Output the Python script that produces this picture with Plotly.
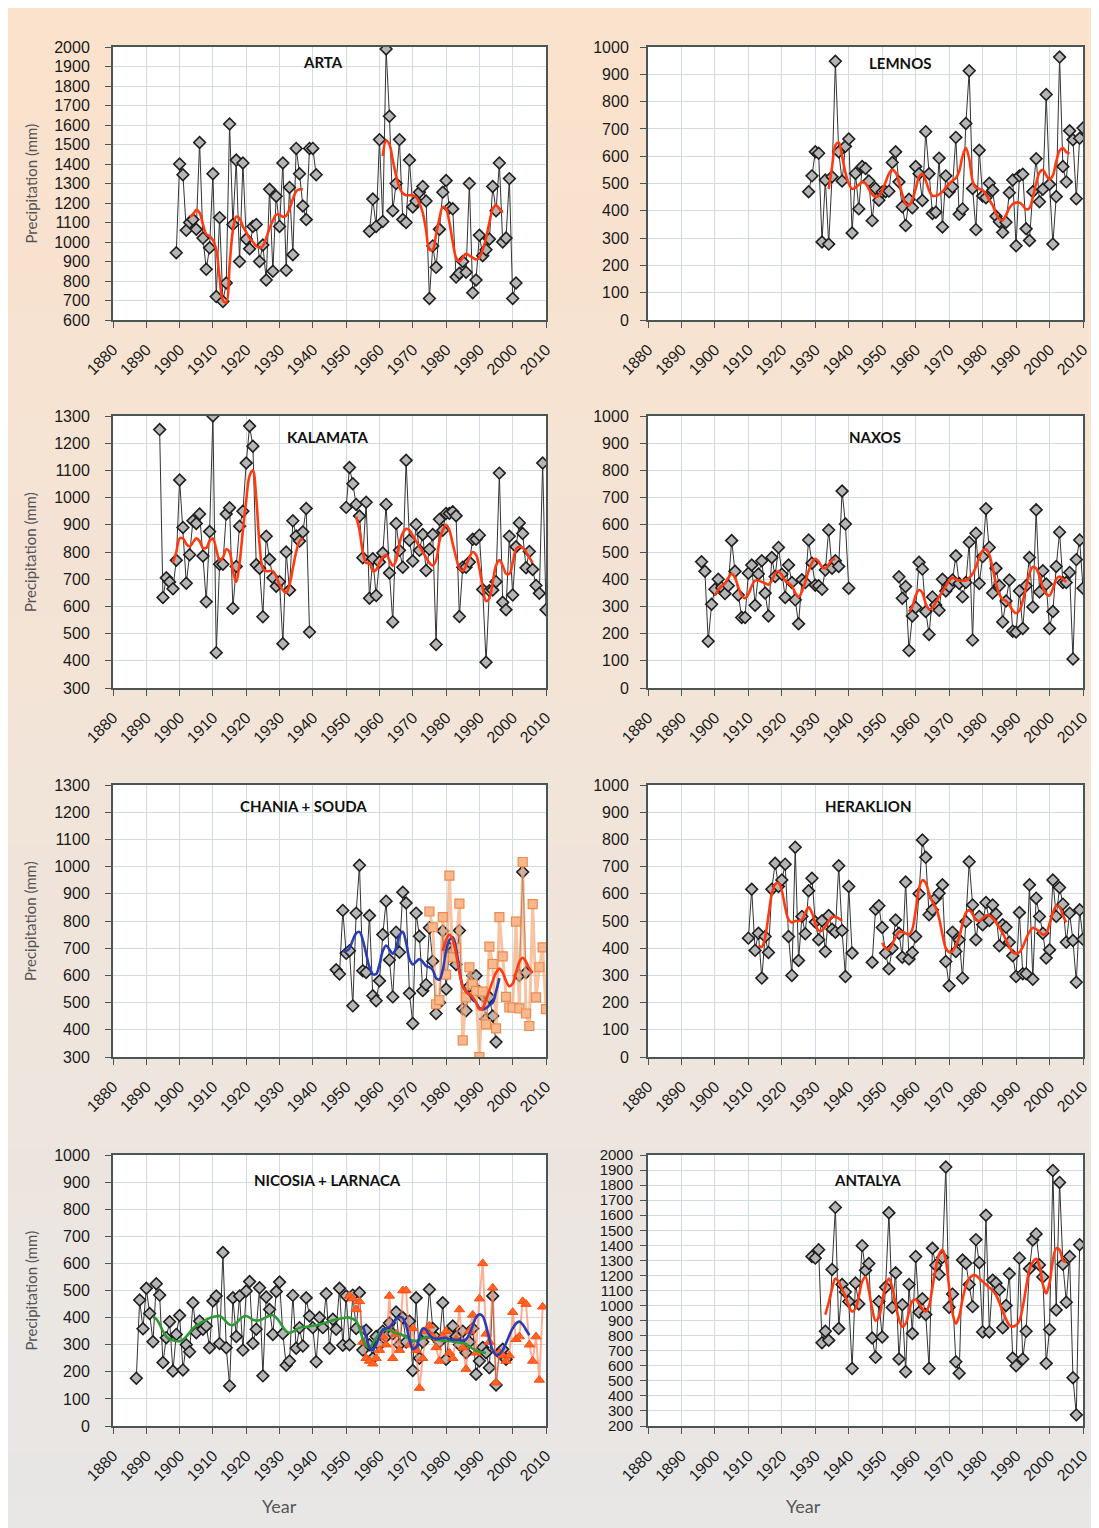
import plotly.graph_objects as go

# ---------------- DATA ----------------
X_TICKS = list(range(1880, 2011, 10))

# ARTA
ARTA_S1_START = 1899
ARTA_S1 = [945, 1400, 1345, 1060, 1100, 1115, 1065, 1510, 1020, 860, 970, 1350, 720, 1125, 695, 790,
           1605, 1090, 1420, 900, 1405, 1015, 965, 1080, 1090, 900, 985, 805, 1270, 850, 1235, 1080,
           1405, 855, 1280, 935, 1480, 1350, 1185, 1115, 1480, 1480, 1345]
ARTA_S2_START = 1957
ARTA_S2 = [1055, 1220, 1080, 1525, 1105, 1990, 1645, 1160, 1300, 1525, 1115, 1100, 1420, 1180, 1210,
           1255, 1285, 1210, 710, 980, 870, 1065, 1255, 1315, 1175, 1170, 820, 840, 900, 845, 1300,
           740, 805, 1035, 930, 960, 1015, 1285, 1160, 1405, 1000, 1020, 1325, 710, 790]
ARTA_F1_START = 1903
ARTA_F1 = [1130, 1140, 1165, 1150, 1090, 1040, 1030, 1010, 960, 820, 700, 690, 880, 1060, 1130, 1120,
           1080, 1050, 1020, 1000, 980, 970, 980, 1020, 1070, 1110, 1140, 1140, 1130, 1135, 1170, 1220,
           1260, 1270, 1270]
ARTA_F2_START = 1961
ARTA_F2 = [1440, 1520, 1500, 1420, 1340, 1280, 1250, 1240, 1240, 1240, 1230, 1200, 1150, 1060, 960,
           960, 1040, 1120, 1180, 1170, 1100, 1000, 920, 900, 920, 940, 930, 920, 910, 920, 960, 1020,
           1100, 1170, 1190, 1170, 1150]

# LEMNOS
LEMNOS_START = 1928
LEMNOS = [470, 528, 616, 611, 286, 513, 278, 525, 948, 616, 509, 636, 663, 319, 537, 407, 562, 555,
          509, 364, 482, 439, 469, 470, 472, 577, 616, 506, 415, 346, 442, 411, 562, 536, 438, 690,
          536, 390, 395, 593, 341, 528, 470, 487, 669, 387, 407, 720, 913, 482, 331, 622, 454, 448,
          501, 475, 380, 360, 321, 358, 466, 513, 272, 528, 534, 334, 291, 470, 591, 433, 479, 826,
          497, 278, 452, 963, 562, 506, 693, 660, 444, 666, 703]
LEMNOS_F_START = 1934
LEMNOS_F = [480, 560, 640, 650, 600, 540, 500, 480, 485, 495, 505, 500, 480, 460, 450, 455, 475, 505,
            535, 550, 540, 505, 460, 425, 420, 440, 480, 525, 535, 510, 475, 455, 455, 460, 470, 485,
            500, 510, 520, 545, 600, 630, 590, 510, 485, 480, 475, 460, 440, 420, 390, 370, 365, 385,
            410, 425, 430, 430, 420, 405, 410, 450, 500, 540, 550, 530, 515, 530, 580, 620, 630, 615,
            610]

# KALAMATA
KAL_S1_START = 1894
KAL_S1 = [1250, 633, 705, 690, 665, 770, 1065, 890, 685, 790, 915, 905, 940, 785, 617, 875, 1300, 430,
          755, 755, 940, 963, 593, 747, 895, 950, 1127, 1263, 1189, 753, 740, 562, 858, 773, 705, 674,
          691, 463, 800, 660, 915, 859, 840, 874, 960, 506]
KAL_S2_START = 1950
KAL_S2 = [964, 1111, 1051, 975, 932, 779, 983, 630, 775, 640, 763, 796, 975, 723, 543, 905, 806, 744,
          1137, 843, 767, 901, 806, 864, 732, 810, 864, 460, 920, 880, 942, 942, 948, 933, 563, 744,
          744, 763, 847, 847, 862, 662, 395, 658, 660, 691, 1090, 615, 588, 858, 642, 819, 907, 868,
          742, 802, 736, 677, 648, 1127, 588]
KAL_F1_START = 1898
KAL_F1 = [760, 800, 850, 850, 830, 820, 835, 850, 840, 815, 815, 840, 850, 810, 770, 780, 810, 800, 730,
          690, 760, 880, 990, 1080, 1100, 1000, 830, 740, 730, 730, 730, 710, 680, 660, 650, 680, 740,
          800, 840, 850]
KAL_F2_START = 1953
KAL_F2 = [930, 880, 800, 760, 760, 730, 735, 760, 780, 790, 770, 750, 770, 830, 870, 885, 880, 860, 840,
          820, 800, 780, 760, 750, 770, 840, 880, 900, 880, 830, 780, 740, 730, 750, 780, 800, 790, 740,
          670, 620, 630, 690, 750, 770, 750, 720, 720, 760, 810, 820, 815, 800, 780, 760]

# NAXOS
NAX_S1_START = 1896
NAX_S1 = [464, 429, 172, 308, 363, 400, 369, 347, 376, 542, 429, 342, 259, 259, 422, 452, 304, 419, 468,
          349, 265, 480, 410, 517, 418, 333, 452, 388, 324, 236, 398, 388, 544, 459, 378, 376, 363, 434,
          581, 440, 468, 447, 724, 603, 367]
NAX_S2_START = 1955
NAX_S2 = [409, 330, 373, 138, 265, 296, 462, 437, 281, 197, 335, 305, 286, 400, 357, 373, 397, 486, 384,
          335, 388, 536, 176, 569, 384, 483, 659, 517, 349, 440, 376, 243, 320, 397, 209, 206, 357, 219,
          376, 480, 298, 655, 353, 431, 382, 219, 281, 447, 573, 388, 388, 425, 107, 472, 544, 367]
NAX_F1_START = 1900
NAX_F1 = [340, 360, 375, 385, 405, 420, 405, 370, 340, 330, 345, 375, 395, 395, 390, 385, 380, 395, 420,
          430, 415, 395, 385, 375, 350, 335, 355, 390, 430, 460, 475, 465, 445, 440, 455, 470, 475]
NAX_F2_START = 1958
NAX_F2 = [280, 300, 340, 360, 350, 310, 290, 295, 315, 335, 355, 375, 395, 405, 400, 395, 395, 395, 405,
          420, 445, 480, 505, 510, 490, 440, 385, 345, 325, 320, 305, 285, 275, 285, 320, 370, 420, 445,
          440, 410, 370, 345, 340, 365, 400, 410, 400, 390]

# CHANIA + SOUDA
CHANIA_START = 1947
CHANIA = [621, 605, 839, 681, 691, 488, 829, 1005, 617, 611, 820, 525, 507, 580, 750, 873, 657, 521, 759,
          685, 906, 866, 534, 423, 829, 744, 544, 566, 775, 652, 460, 500, 763, 550, 700, 690, 640, 765,
          477, 470, 560, 599, 599, 540, 525, 440, 520, 451, 355]
CHANIA_S2_START = 2002
CHANIA_S2 = [600, 980, 610]
CHANIA_F_START = 1949
CHANIA_F = [690, 690, 700, 730, 755, 760, 730, 680, 630, 605, 605, 640, 690, 710, 695, 680, 700, 745, 760,
            720, 660, 640, 650, 660, 650, 635, 630, 620, 590, 585, 620, 690, 730, 740, 700, 620, 560, 540,
            530, 510, 500, 480, 475, 480, 490, 500, 540, 590]
SOUDA_START = 1975
SOUDA = [835, 777, 494, 509, 814, 603, 967, 666, 700, 864, 361, 519, 630, 568, 543, 300, 540, 420, 706,
         642, 405, 814, 670, 521, 482, 482, 798, 479, 1017, 460, 414, 862, 519, 630, 703, 476]
SOUDA_F_START = 1979
SOUDA_F = [690, 730, 750, 730, 680, 610, 560, 540, 530, 520, 500, 475, 480, 510, 545, 580, 610, 625, 610,
           580, 560, 570, 610, 650, 665, 650, 625, 610]

# HERAKLION
HER_S1_START = 1910
HER_S1 = [437, 617, 392, 455, 290, 443, 384, 617, 712, 627, 651, 709, 443, 300, 771, 355, 517, 453, 611,
          657, 496, 431, 501, 388, 520, 470, 459, 703, 465, 296, 627, 382]
HER_S2_START = 1947
HER_S2 = [348, 543, 556, 476, 382, 324, 400, 504, 455, 367, 643, 360, 384, 443, 600, 798, 734, 523, 541,
          584, 602, 633, 351, 262, 459, 388, 431, 290, 498, 718, 559, 431, 517, 486, 568, 502, 559, 526,
          409, 486, 477, 422, 372, 296, 531, 306, 306, 633, 286, 584, 517, 455, 364, 394, 651, 517, 623,
          562, 422, 529, 428, 275, 541, 433]
HER_F1_START = 1913
HER_F1 = [410, 405, 440, 520, 600, 635, 640, 610, 550, 505, 495, 500, 500, 505, 530, 550, 530, 490, 465,
          465, 480, 500, 515, 515, 510, 500]
HER_F2_START = 1950
HER_F2 = [420, 400, 395, 415, 440, 460, 460, 455, 450, 470, 540, 620, 650, 640, 600, 570, 550, 510, 450,
          400, 385, 390, 410, 440, 490, 530, 540, 525, 505, 500, 510, 520, 520, 510, 495, 475, 455, 430,
          405, 385, 380, 385, 405, 435, 460, 475, 470, 460, 450, 455, 490, 530, 555, 550, 520, 495]

# NICOSIA + LARNACA
NIC_START = 1887
NIC = [176, 465, 359, 508, 415, 311, 525, 483, 234, 326, 385, 203, 338, 408, 207, 300, 274, 455, 344, 387,
       357, 369, 289, 461, 480, 304, 640, 289, 148, 473, 330, 480, 280, 498, 533, 305, 357, 510, 185, 476,
       430, 338, 496, 531, 341, 224, 240, 482, 287, 363, 295, 473, 406, 363, 237, 400, 363, 488, 287, 394,
       357, 508, 298, 480, 300, 483, 360, 492, 280, 353, 300, 250, 330, 300, 350, 330, 380, 340, 421, 300,
       400, 310, 387, 205, 473, 250, 310, 340, 504, 360, 326, 310, 455, 246, 340, 369, 330, 300, 350, 270,
       310, 360, 191, 240, 290, 270, 215, 480, 151, 270, 283, 246]
NIC_F_START = 1892
NIC_F = [402, 395, 375, 350, 330, 320, 316, 313, 313, 318, 330, 345, 360, 370, 378, 385, 392, 398, 402, 405,
         406, 398, 385, 374, 372, 380, 393, 403, 406, 400, 392, 389, 390, 395, 402, 407, 409, 400, 385, 365,
         350, 344, 348, 356, 362, 365, 366, 368, 370, 372, 375, 378, 382, 386, 390, 393, 396, 398, 400, 400,
         395, 387, 360, 320, 295, 291, 305, 325, 342, 352, 355, 353, 348, 342, 340, 335, 328, 320, 315, 314,
         318, 324, 328, 328, 325, 320, 316, 314, 314, 313, 312, 310, 308, 307, 302, 294, 285, 278, 274, 271,
         270]
LAR_START = 1951
LAR = [480, 470, 430, 460, 310, 250, 240, 230, 250, 280, 330, 300, 480, 250, 340, 280, 500, 500, 300, 360,
       280, 140, 250, 350, 370, 330, 290, 240, 330, 350, 270, 250, 320, 430, 290, 210, 350, 410, 270, 470,
       600, 340, 310, 510, 160, 270, 260, 240, 260, 420, 320, 330, 460, 450, 300, 240, 330, 170, 440]
LAR_F_START = 1955
LAR_F = [370, 330, 290, 280, 300, 330, 355, 360, 365, 380, 395, 402, 398, 370, 320, 285, 290, 330, 360, 355,
         335, 325, 322, 322, 325, 325, 320, 318, 318, 318, 315, 320, 340, 370, 400, 412, 405, 370, 320, 280,
         262, 265, 280, 305, 335, 360, 378, 385, 375, 355, 335]

# ANTALYA
ANT_START = 1929
ANT = [1326, 1315, 1371, 753, 829, 769, 1240, 1652, 847, 1140, 1090, 1027, 582, 1150, 1011, 1398, 1234,
       1279, 784, 656, 1027, 791, 1121, 1616, 987, 1218, 645, 1005, 560, 1140, 814, 1326, 955, 1045, 940,
       582, 1380, 1267, 1207, 1320, 1920, 989, 1076, 627, 551, 1303, 1281, 1140, 993, 1438, 1285, 825,
       1600, 825, 1169, 1150, 1106, 852, 1000, 1211, 652, 600, 1315, 645, 829, 1245, 1436, 1476, 1270,
       1190, 616, 841, 1897, 971, 1818, 1274, 1022, 1326, 521, 274, 1404]
ANT_F_START = 1933
ANT_F = [940, 1020, 1110, 1180, 1160, 1110, 1060, 1000, 960, 980, 1060, 1160, 1190, 1100, 980, 900, 920,
         1030, 1130, 1180, 1120, 1010, 910, 860, 880, 960, 1030, 1040, 1010, 980, 960, 1000, 1120, 1250,
         1340, 1370, 1300, 1120, 950, 880, 930, 1040, 1130, 1180, 1200, 1200, 1180, 1160, 1140, 1120,
         1100, 1070, 1020, 960, 910, 870, 860, 870, 900, 990, 1120, 1240, 1290, 1310, 1260, 1140, 1080,
         1150, 1300, 1380, 1370, 1300, 1290]

TITLES = ["ARTA", "LEMNOS", "KALAMATA", "NAXOS", "CHANIA + SOUDA", "HERAKLION",
          "NICOSIA + LARNACA", "ANTALYA"]
Y_RANGES = [(600, 2000), (0, 1000), (300, 1300), (0, 1000), (300, 1300), (0, 1000), (0, 1000), (200, 2000)]

# ---------------- LAYOUT GEOMETRY ----------------
OFF = 8                      # page body margin offset
W, H = 1099 - OFF, 1528 - OFF


def fx(px):
    return (px - OFF) / W


def fy(py):
    return 1 - (py - OFF) / H


XL = (fx(113), fx(546))
XR = (fx(648), fx(1083))
ROWS = [(47, 320), (416, 688), (785, 1057), (1155, 1426)]


def yd(r):
    t, b = ROWS[r]
    return (fy(b), fy(t))


def yrs(start, vals):
    return list(range(start, start + len(vals)))


fig = go.Figure()

OBS_LINE = dict(color="#333333", width=1)
OBS_MARK = dict(symbol="diamond", size=9, color="#b5b5b5", line=dict(color="#1e1e1e", width=1.6))
RED = dict(color="#ff3a10", width=2.6, shape="spline")


def add_obs(i, start, vals):
    fig.add_trace(go.Scatter(x=yrs(start, vals), y=vals, mode="lines+markers", line=OBS_LINE,
                             marker=OBS_MARK, xaxis=f"x{i}", yaxis=f"y{i}", showlegend=False))


def add_smooth(i, start, vals, line):
    fig.add_trace(go.Scatter(x=yrs(start, vals), y=vals, mode="lines", line=line,
                             xaxis=f"x{i}", yaxis=f"y{i}", showlegend=False))


# 1 ARTA
add_obs(1, ARTA_S1_START, ARTA_S1)
add_obs(1, ARTA_S2_START, ARTA_S2)
add_smooth(1, ARTA_F1_START, ARTA_F1, RED)
add_smooth(1, ARTA_F2_START, ARTA_F2, RED)
# 2 LEMNOS
add_obs(2, LEMNOS_START, LEMNOS)
add_smooth(2, LEMNOS_F_START, LEMNOS_F, RED)
# 3 KALAMATA
add_obs(3, KAL_S1_START, KAL_S1)
add_obs(3, KAL_S2_START, KAL_S2)
add_smooth(3, KAL_F1_START, KAL_F1, RED)
add_smooth(3, KAL_F2_START, KAL_F2, RED)
# 4 NAXOS
add_obs(4, NAX_S1_START, NAX_S1)
add_obs(4, NAX_S2_START, NAX_S2)
add_smooth(4, NAX_F1_START, NAX_F1, RED)
add_smooth(4, NAX_F2_START, NAX_F2, RED)
# 5 CHANIA + SOUDA
add_obs(5, CHANIA_START, CHANIA)
add_obs(5, CHANIA_S2_START, CHANIA_S2)
fig.add_trace(go.Scatter(x=yrs(SOUDA_START, SOUDA), y=SOUDA, mode="lines+markers",
                         line=dict(color="rgba(245,170,120,0.7)", width=3),
                         marker=dict(symbol="square", size=9, color="#f7b88f",
                                     line=dict(color="#ee8a4a", width=1.2)),
                         xaxis="x5", yaxis="y5", showlegend=False))
add_smooth(5, CHANIA_F_START, CHANIA_F, dict(color="#2b3db5", width=2.6, shape="spline"))
add_smooth(5, SOUDA_F_START, SOUDA_F, RED)
# 6 HERAKLION
add_obs(6, HER_S1_START, HER_S1)
add_obs(6, HER_S2_START, HER_S2)
add_smooth(6, HER_F1_START, HER_F1, RED)
add_smooth(6, HER_F2_START, HER_F2, RED)
# 7 NICOSIA + LARNACA
add_obs(7, NIC_START, NIC)
fig.add_trace(go.Scatter(x=yrs(LAR_START, LAR), y=LAR, mode="lines+markers",
                         line=dict(color="rgba(255,130,90,0.65)", width=2),
                         marker=dict(symbol="triangle-up", size=9, color="#ff6424",
                                     line=dict(color="#ff4a10", width=1)),
                         xaxis="x7", yaxis="y7", showlegend=False))
add_smooth(7, NIC_F_START, NIC_F, dict(color="#2f9a35", width=2.6, shape="spline"))
add_smooth(7, LAR_F_START, LAR_F, dict(color="#2b3db5", width=2.6, shape="spline"))
# 8 ANTALYA
add_obs(8, ANT_START, ANT)
add_smooth(8, ANT_F_START, ANT_F, RED)

# ---------------- AXES ----------------
XTICKFONT = dict(family="Liberation Sans, Arial", size=16, color="#1a1a1a")
layout = {}
for i in range(1, 9):
    col = (i - 1) % 2
    row = (i - 1) // 2
    xd = XL if col == 0 else XR
    sfx = "" if i == 1 else str(i)
    lo, hi = Y_RANGES[i - 1]
    layout["xaxis" + sfx] = dict(
        domain=list(xd), anchor="y" + sfx, range=[1880, 2010], tickmode="array", tickvals=X_TICKS,
        ticktext=[str(v) for v in X_TICKS], tickangle=-45, tickfont=XTICKFONT, showgrid=True,
        gridcolor="#cfdde3", gridwidth=1, showline=True, linecolor="#4a5656", linewidth=2,
        mirror=True, ticks="outside", ticklen=6, tickcolor="#4a5656", zeroline=False,
        automargin=False, ticklabelstandoff=6)
    layout["yaxis" + sfx] = dict(
        domain=list(yd(row)), anchor="x" + sfx, range=[lo, hi], dtick=100, tick0=0,
        tickfont=dict(family="Liberation Sans, Arial", size=16 if i != 8 else 15, color="#1a1a1a"),
        showgrid=True, gridcolor="#d3dadd", gridwidth=1, showline=True, linecolor="#4a5656",
        linewidth=2, mirror=True, ticks="outside", ticklen=6, tickcolor="#4a5656", zeroline=False,
        automargin=False, ticklabelstandoff=(12 if col == 0 else 8) if i != 8 else 4)

# background gradient bands (style only)
shapes = []
N = 40
top = (251, 226, 204)
mid = (240, 229, 219)
bot = (232, 231, 230)
for k in range(N):
    t = k / (N - 1)
    if t < 0.6:
        u = t / 0.6
        c = tuple(int(top[j] + (mid[j] - top[j]) * u) for j in range(3))
    else:
        u = (t - 0.6) / 0.4
        c = tuple(int(mid[j] + (bot[j] - mid[j]) * u) for j in range(3))
    y1 = 1 - k / N
    y0 = 1 - (k + 1) / N
    shapes.append(dict(type="rect", xref="paper", yref="paper", x0=0, x1=1, y0=max(0, y0 - 0.0005), y1=y1,
                       fillcolor=f"rgb{c}", line=dict(width=0), layer="below"))
for r in range(4):
    for xd in (XL, XR):
        y0, y1 = yd(r)
        shapes.append(dict(type="rect", xref="paper", yref="paper", x0=xd[0], x1=xd[1], y0=y0, y1=y1,
                           fillcolor="#ffffff", line=dict(width=0), layer="below"))

TITLE_POS = [(323, 62), (900, 63), (327, 437), (875, 437), (303, 806), (868, 806), (327, 1180), (868, 1180)]
annotations = []
for t, (px, py) in zip(TITLES, TITLE_POS):
    annotations.append(dict(text=f"<b>{t}</b>", x=fx(px), y=fy(py), xref="paper", yref="paper",
                            showarrow=False, font=dict(family="Lato", size=15, color="#111111"),
                            xanchor="center", yanchor="middle"))
for px in (279, 803):
    annotations.append(dict(text="Year", x=fx(px), y=fy(1506), xref="paper", yref="paper",
                            showarrow=False, font=dict(family="Lato", size=18, color="#555555"),
                            xanchor="center", yanchor="middle"))
for r in range(4):
    t, b = ROWS[r]
    annotations.append(dict(text="Precipitation (mm)", x=fx(30), y=fy((t + b) / 2), xref="paper",
                            yref="paper", showarrow=False, textangle=-90,
                            font=dict(family="Lato", size=15, color="#555555"),
                            xanchor="center", yanchor="middle"))

fig.update_layout(width=W, height=H, margin=dict(l=0, r=0, t=0, b=0, autoexpand=False),
                  paper_bgcolor="#ffffff", plot_bgcolor="rgba(0,0,0,0)", shapes=shapes,
                  annotations=annotations, **layout)

fig.write_html("out.html")
